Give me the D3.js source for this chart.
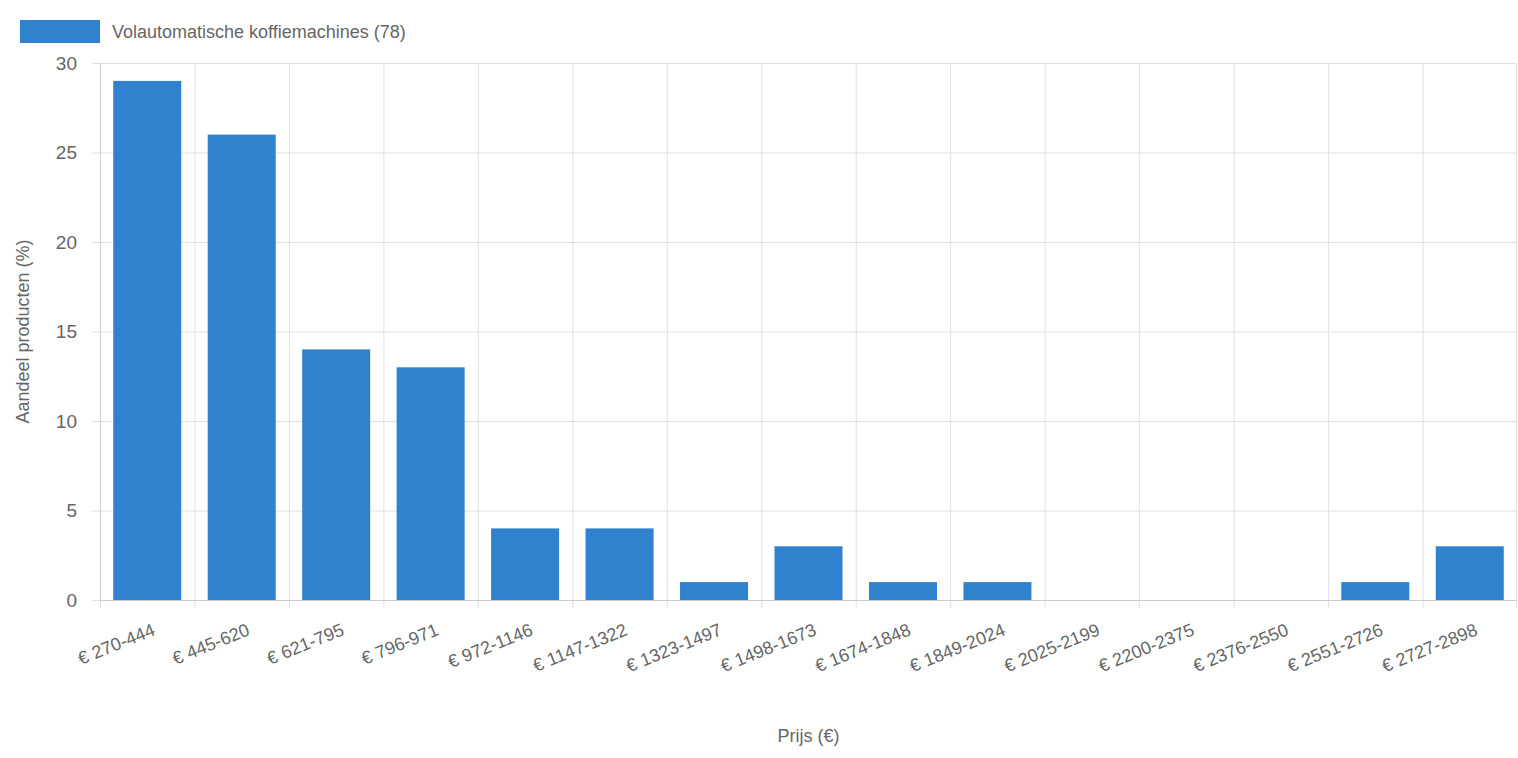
<!DOCTYPE html>
<html><head><meta charset="utf-8">
<script src="https://cdn.jsdelivr.net/npm/d3@7"></script>
<style>body{margin:0;background:#fff;font-family:"Helvetica Neue",Helvetica,Arial,"Liberation Sans",sans-serif}</style>
</head><body>
<svg id="chart" width="1518" height="758"></svg>
<script>
var categories = ["€ 270-444","€ 445-620","€ 621-795","€ 796-971","€ 972-1146","€ 1147-1322","€ 1323-1497","€ 1498-1673","€ 1674-1848","€ 1849-2024","€ 2025-2199","€ 2200-2375","€ 2376-2550","€ 2551-2726","€ 2727-2898"];
var values = [29,26,14,13,4,4,1,3,1,1,0,0,0,1,3];
var yTicks = [0,5,10,15,20,25,30];
var seriesName = "Volautomatische koffiemachines (78)";

var svg = d3.select("#chart");
var plotLeft = 100, plotRight = 1517, plotTop = 63, plotBottom = 600;

var x = d3.scaleBand().domain(categories).range([plotLeft, plotRight]).paddingInner(0.28).paddingOuter(0.14);
var xg = d3.scaleBand().domain(categories).range([plotLeft, plotRight]);
var y = d3.scaleLinear().domain([0, 30]).range([plotBottom, plotTop]);

// grid
var grid = svg.append("g").attr("stroke", "#e0e0e0").attr("stroke-width", 1);
yTicks.forEach(function(t){
  grid.append("line").attr("x1", plotLeft - 8).attr("x2", plotRight).attr("y1", y(t)+0.5).attr("y2", y(t)+0.5);
});
categories.forEach(function(c){
  grid.append("line").attr("x1", xg(c)+0.5).attr("x2", xg(c)+0.5).attr("y1", plotTop).attr("y2", plotBottom + 8);
});
grid.append("line").attr("x1", plotRight-0.5).attr("x2", plotRight-0.5).attr("y1", plotTop).attr("y2", plotBottom + 8);
svg.append("line").attr("x1", plotLeft).attr("x2", plotRight).attr("y1", plotBottom+0.5).attr("y2", plotBottom+0.5).attr("stroke", "#ccc");
svg.append("line").attr("x1", plotLeft+0.5).attr("x2", plotLeft+0.5).attr("y1", plotTop).attr("y2", plotBottom).attr("stroke", "#ccc");

// bars
svg.append("g").selectAll("rect").data(values).join("rect")
  .attr("x", function(d, i){ return x(categories[i]); })
  .attr("width", x.bandwidth())
  .attr("y", function(d){ return y(d); })
  .attr("height", function(d){ return plotBottom - y(d); })
  .attr("fill", "#3182ce");

// y labels
svg.append("g").selectAll("text").data(yTicks).join("text")
  .attr("x", 77).attr("y", function(d){ return y(d); })
  .attr("dy", "0.35em").attr("text-anchor", "end")
  .attr("fill", "#666").attr("font-size", 19).text(function(d){ return d; });

// x labels
svg.append("g").selectAll("text").data(categories).join("text")
  .attr("transform", function(d){ return "translate(" + (xg(d) + xg.bandwidth()/2 + 4) + "," + (plotBottom + 22) + ") rotate(-22)"; })
  .attr("text-anchor", "end").attr("dy", "0.75em")
  .attr("fill", "#666").attr("font-size", 18).text(function(d){ return d; });

// axis titles
svg.append("text").attr("x", (plotLeft + plotRight)/2).attr("y", 742).attr("text-anchor", "middle")
  .attr("fill", "#666").attr("font-size", 18).text("Prijs (€)");
svg.append("text").attr("transform", "translate(29," + ((plotTop + plotBottom)/2) + ") rotate(-90)")
  .attr("text-anchor", "middle").attr("fill", "#666").attr("font-size", 18).text("Aandeel producten (%)");

// legend
svg.append("rect").attr("x", 20).attr("y", 20).attr("width", 80).attr("height", 23).attr("fill", "#3182ce");
svg.append("text").attr("x", 112).attr("y", 32).attr("dy", "0.35em")
  .attr("fill", "#666").attr("font-size", 18).text(seriesName);
</script>
</body></html>
